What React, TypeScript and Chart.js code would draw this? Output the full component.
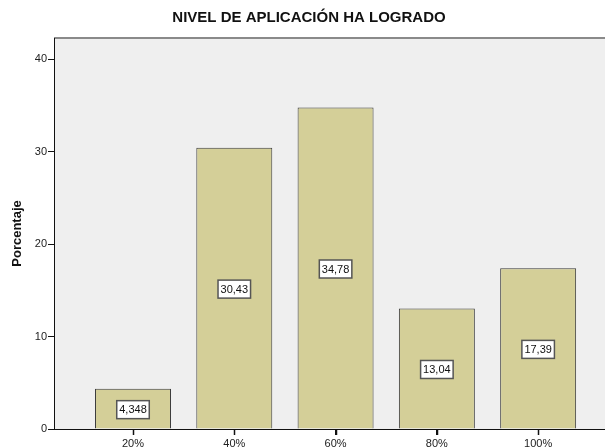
import React, { useEffect, useRef } from "react";
import { Chart, registerables } from "chart.js";

Chart.register(...registerables);

const TITLE = "NIVEL DE APLICACIÓN HA LOGRADO";
const Y_TITLE = "Porcentaje";
const CATEGORIES = ["20%", "40%", "60%", "80%", "100%"];
const POSITIONS = [1, 2, 3, 4, 5];
const VALUES = [4.348, 30.43, 34.78, 13.04, 17.39];
const VALUE_LABELS = ["4,348", "30,43", "34,78", "13,04", "17,39"];
const Y_TICKS = [0, 10, 20, 30, 40];

const FONT = "'Liberation Sans', Arial, sans-serif";

export default function App() {
  const ref = useRef<HTMLCanvasElement>(null);

  useEffect(() => {
    document.body.style.margin = "0";
    const canvas = ref.current!;
    const decor = {
      id: "decor",
      beforeDraw(chart: any) {
        const { ctx, chartArea: a } = chart;
        ctx.save();
        ctx.fillStyle = "#efefef";
        ctx.fillRect(a.left, a.top, a.right - a.left, a.bottom - a.top);
        ctx.strokeStyle = "#8a8a8a";
        ctx.lineWidth = 2;
        ctx.beginPath();
        ctx.moveTo(a.left, a.top);
        ctx.lineTo(a.right, a.top);
        ctx.stroke();
        ctx.fillStyle = "#111";
        ctx.font = `bold 15px ${FONT}`;
        ctx.textAlign = "center";
        ctx.textBaseline = "middle";
        ctx.fillText(TITLE, 309, 18);
        ctx.restore();
      },
      afterDatasetsDraw(chart: any) {
        const { ctx } = chart;
        const meta = chart.getDatasetMeta(0);
        ctx.save();
        ctx.font = `11px ${FONT}`;
        ctx.textAlign = "center";
        ctx.textBaseline = "middle";
        meta.data.forEach((bar: any, i: number) => {
          const cy = (bar.y + bar.base) / 2 + 1;
          const txt = VALUE_LABELS[i];
          const w = ctx.measureText(txt).width + 5;
          const h = 18;
          ctx.fillStyle = "#ffffff";
          ctx.fillRect(bar.x - w / 2, cy - h / 2, w, h);
          ctx.strokeStyle = "#555";
          ctx.lineWidth = 1.5;
          ctx.strokeRect(bar.x - w / 2, cy - h / 2, w, h);
          ctx.fillStyle = "#111";
          ctx.fillText(txt, bar.x, cy + 0.5);
        });
        ctx.restore();
      },
      afterDraw(chart: any) {
        const { ctx, chartArea: a } = chart;
        const xs = chart.scales.x;
        ctx.save();
        ctx.strokeStyle = "#111";
        ctx.lineWidth = 1.5;
        POSITIONS.forEach((p) => {
          const px = Math.round(xs.getPixelForValue(p)) + 0.5;
          ctx.beginPath();
          ctx.moveTo(px, a.bottom);
          ctx.lineTo(px, a.bottom + 6);
          ctx.stroke();
        });
        ctx.restore();
      },
    };

    const chart = new Chart(canvas, {
      type: "bar",
      data: {
        datasets: [
          {
            data: POSITIONS.map((x, i) => ({ x, y: VALUES[i] })),
            backgroundColor: "#d4cf98",
            borderColor: "#3a3a3a",
            borderWidth: 1,
            categoryPercentage: 1,
            barPercentage: 0.75,
          },
        ],
      },
      options: {
        animation: false,
        responsive: false,
        maintainAspectRatio: false,
        layout: { padding: { top: 38, left: 0, right: 0, bottom: 0 } },
        plugins: { legend: { display: false }, tooltip: { enabled: false }, title: { display: false } },
        scales: {
          x: {
            type: "linear",
            offset: false,
            min: 0.22,
            max: 5.66,
            afterFit(scale: any) {
              scale.height = 19;
            },
            afterBuildTicks(scale: any) {
              scale.ticks = POSITIONS.map((v) => ({ value: v }));
            },
            grid: { offset: false, drawOnChartArea: false, drawTicks: true, tickLength: 6, tickColor: "#111", tickWidth: 1 },
            border: { display: true, color: "#111", width: 1 },
            ticks: {
              autoSkip: false,
              maxRotation: 0,
              padding: 2,
              color: "#222",
              font: { family: FONT, size: 11 },
              callback: (v: any) => CATEGORIES[POSITIONS.indexOf(Number(v))] ?? "",
            },
          },
          y: {
            min: 0,
            max: 42.3,
            afterFit(scale: any) {
              scale.width = 54;
            },
            afterBuildTicks(scale: any) {
              scale.ticks = Y_TICKS.map((v) => ({ value: v }));
            },
            grid: { drawOnChartArea: false, drawTicks: true, tickLength: 6, tickColor: "#111", tickWidth: 1 },
            border: { display: true, color: "#111", width: 1 },
            ticks: {
              padding: 1,
              color: "#222",
              font: { family: FONT, size: 11 },
            },
            title: {
              display: true,
              text: Y_TITLE,
              color: "#111",
              font: { family: FONT, size: 13, weight: "bold" },
              padding: { top: 10, bottom: 0 },
            },
          },
        },
      },
      plugins: [decor],
    });
    return () => chart.destroy();
  }, []);

  return <canvas ref={ref} width={605} height={448} style={{ display: "block" }} />;
}
